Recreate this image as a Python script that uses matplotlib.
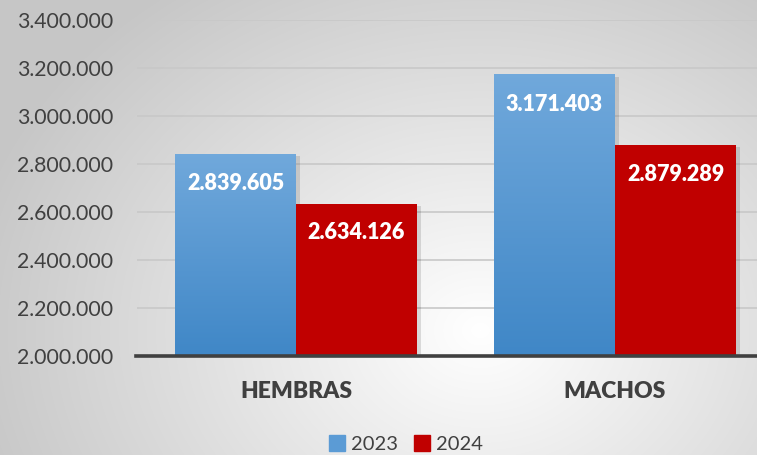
import numpy as np
import matplotlib.pyplot as plt
from matplotlib.patches import Rectangle

categories = ['HEMBRAS', 'MACHOS']
series_names = ['2023', '2024']
values_2023 = [2839605, 3171403]
values_2024 = [2634126, 2879289]
yticks = [2000000, 2200000, 2400000, 2600000, 2800000, 3000000, 3200000, 3400000]

plt.rcParams['font.family'] = ['Lato', 'DejaVu Sans']

W, H = 757, 455
fig = plt.figure(figsize=(W / 100, H / 100), dpi=100)


def fmt(v):
    return f'{v:,}'.replace(',', '.')


# radial gray background
bg = fig.add_axes([0, 0, 1, 1], zorder=0)
yy, xx = np.mgrid[0:H, 0:W]
r = np.sqrt(((xx - 480) / 520) ** 2 + ((yy - 330) / 420) ** 2)
shade = np.clip(1.0 - 0.22 * r, 0.78, 1.0)
bg.imshow(np.dstack([shade] * 3), extent=[0, W, H, 0], aspect='auto')
bg.axis('off')

ax = fig.add_axes([136.5 / W, 1 - 356 / H, 638 / W, 336 / H], zorder=1)
ax.patch.set_alpha(0)

bw = 121 / 319
x = np.arange(len(categories))

blue_grad = np.linspace([0.44, 0.66, 0.86], [0.25, 0.53, 0.78], 100)[:, None, :]

for i in x:
    for k, (vals, color) in enumerate([(values_2023, None), (values_2024, '#c00000')]):
        left = i - bw + k * bw
        v = vals[i]
        # soft shadow
        ax.add_patch(Rectangle((left + 0.012, 2000000), bw, v - 2000000 - 8000,
                               color='#000000', alpha=0.12, lw=0, zorder=2))
        if color is None:
            ax.imshow(blue_grad, extent=[left, left + bw, 2000000, v],
                      aspect='auto', zorder=3, interpolation='bilinear')
        else:
            ax.add_patch(Rectangle((left, 2000000), bw, v - 2000000,
                                   color=color, lw=0, zorder=3))
        ax.annotate(fmt(v), (left + bw / 2, v), xytext=(0, -21),
                    textcoords='offset points', ha='center', va='center',
                    color='white', fontsize=15.5, fontweight='heavy', zorder=5)

ax.set_xlim(-0.5, 1.5)
ax.set_ylim(2000000, 3400000)
ax.set_yticks(yticks)
ax.set_yticklabels([fmt(t) for t in yticks])
ax.set_xticks(x)
ax.set_xticklabels(categories, fontweight='heavy')
ax.tick_params(axis='y', length=0, pad=16.5, labelsize=15.3, labelcolor='#404040')
ax.tick_params(axis='x', length=0, pad=18, labelsize=16.5, labelcolor='#404040')
ax.grid(axis='y', color='#c8c8c8', lw=1.2, zorder=1)
ax.set_axisbelow(True)
for s in ['top', 'right', 'left']:
    ax.spines[s].set_visible(False)
ax.spines['bottom'].set_color('#404040')
ax.spines['bottom'].set_linewidth(2.6)
ax.spines['bottom'].set_zorder(6)

handles = [Rectangle((0, 0), 1, 1, color='#5b9bd5'), Rectangle((0, 0), 1, 1, color='#c00000')]
fig.legend(handles, series_names, loc='center', bbox_to_anchor=(406 / W, 1 - 444 / H),
           ncol=2, frameon=False, fontsize=14.5, handlelength=0.8, handleheight=0.8,
           handletextpad=0.3, columnspacing=0.8, labelcolor='#404040')

fig.savefig('out.png', dpi=100)
